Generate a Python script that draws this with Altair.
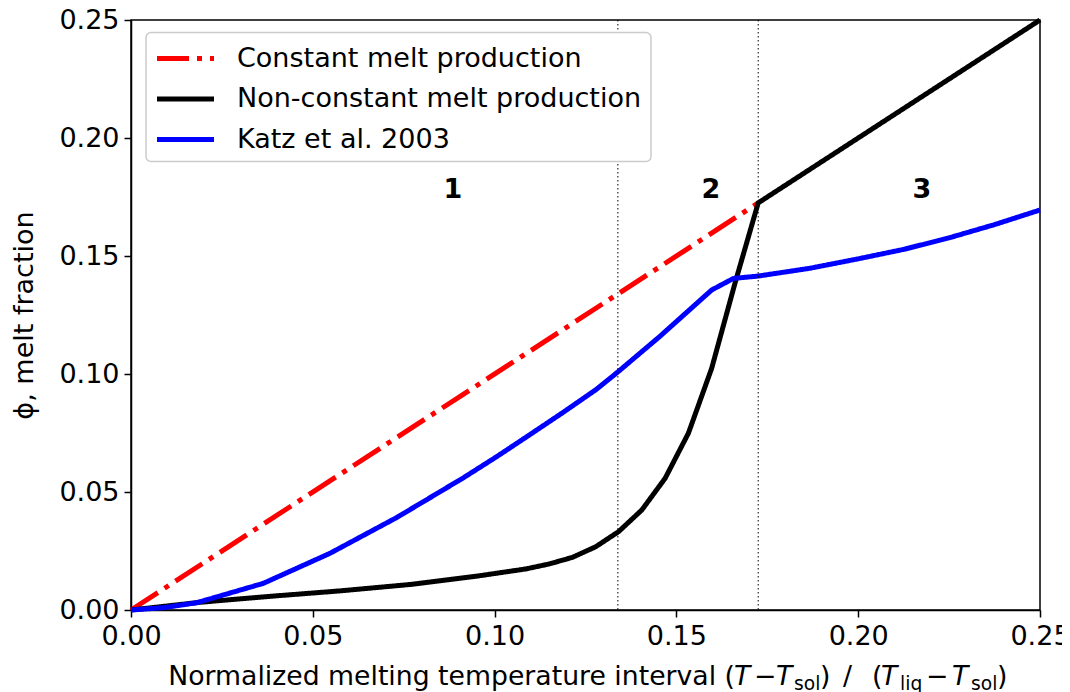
import altair as alt
import pandas as pd

# ---------------- data ----------------
series_names = ["Constant melt production", "Non-constant melt production", "Katz et al. 2003"]
series_colors = ["#ff0000", "#000000", "#0000ff"]

const_x = [0.0, 0.1725]
const_y = [0.0, 0.1725]

nonconst_x = [0.0, 0.0192, 0.0383, 0.0575, 0.0767, 0.0958, 0.1086, 0.1150, 0.1214,
              0.1278, 0.1341, 0.1405, 0.1469, 0.1533, 0.1597, 0.1661, 0.1725, 0.25]
nonconst_y = [0.0, 0.0033, 0.0058, 0.0081, 0.0108, 0.0145, 0.0174, 0.0195, 0.0223,
              0.0268, 0.0332, 0.0424, 0.0558, 0.0749, 0.1024, 0.1384, 0.1725, 0.25]

katz_x = [0.0, 0.0091, 0.0181, 0.0364, 0.0547, 0.0731, 0.0914, 0.1006, 0.1097, 0.1189,
          0.128, 0.134, 0.1455, 0.1597, 0.1657, 0.1725, 0.1867, 0.2, 0.2125, 0.225,
          0.2375, 0.25]
katz_y = [0.0, 0.0010, 0.0031, 0.0113, 0.0240, 0.0392, 0.0560, 0.0650, 0.0743, 0.0838,
          0.0935, 0.1010, 0.1160, 0.1356, 0.1405, 0.1415, 0.1448, 0.1488, 0.1528, 0.1577,
          0.1633, 0.1695]

boundary_x = [0.1339, 0.1725]

region_labels = ["1", "2", "3"]
region_x = [0.0885, 0.1595, 0.2175]
region_y = [0.1745, 0.1745, 0.1745]

x_ticks = [0.0, 0.05, 0.10, 0.15, 0.20, 0.25]
y_ticks = [0.0, 0.05, 0.10, 0.15, 0.20, 0.25]

# ---------------- tables ----------------
rows = []
for name, xs, ys in [(series_names[0], const_x, const_y),
                     (series_names[1], nonconst_x, nonconst_y),
                     (series_names[2], katz_x, katz_y)]:
    for i, (a, b) in enumerate(zip(xs, ys)):
        rows.append({"series": name, "x": a, "y": b, "idx": i})
lines_df = pd.DataFrame(rows)
vlines_df = pd.DataFrame({"x": boundary_x})
labels_df = pd.DataFrame({"x": region_x, "y": region_y, "t": region_labels})
one_df = pd.DataFrame({"k": [0]})

FONT = "DejaVu Sans"
FS = 27
TFS = 26.7
SUB = 18.7

xscale = alt.Scale(domain=[0, 0.25], nice=False, zero=False)
yscale = alt.Scale(domain=[0, 0.25], nice=False, zero=False)

xaxis = alt.Axis(values=x_ticks, format=".2f", title=None, labelFlush=False,
                 labelOverlap=False, grid=False, labelPadding=6)
yaxis = alt.Axis(values=y_ticks, format=".2f", title="ϕ, melt fraction", labelFlush=False,
                 labelOverlap=False, grid=False, titlePadding=20, labelPadding=5)

lines = alt.Chart(lines_df).mark_line(strokeWidth=5, strokeCap="butt", strokeJoin="round").encode(
    x=alt.X("x:Q", scale=xscale, axis=xaxis),
    y=alt.Y("y:Q", scale=yscale, axis=yaxis),
    color=alt.Color("series:N", scale=alt.Scale(domain=series_names, range=series_colors),
                    sort=series_names, title=None),
    strokeDash=alt.StrokeDash("series:N",
                              scale=alt.Scale(domain=series_names,
                                              range=[[32, 8, 5, 8], [1, 0], [1, 0]]),
                              sort=series_names, title=None),
    order=alt.Order("idx:Q"),
)

vlines = alt.Chart(vlines_df).mark_rule(color="black", strokeWidth=1, strokeDash=[1.5, 2.5]).encode(
    x=alt.X("x:Q", scale=xscale)
)

region_text = alt.Chart(labels_df).mark_text(
    font=FONT, fontSize=FS, fontWeight="bold", color="black", baseline="alphabetic", align="center"
).encode(x=alt.X("x:Q", scale=xscale), y=alt.Y("y:Q", scale=yscale), text="t:N")

# x-axis title assembled from pieces (mathtext style with italics and subscripts)
TBASE = 665
SBASE = 670
title_parts = [
    ("Normalized melting temperature interval (", 604, TBASE, TFS, "normal", "right"),
    ("T", 603, TBASE, TFS, "italic", "left"),
    ("\u2212", 623, TBASE, TFS, "normal", "left"),
    ("T", 645, TBASE, TFS, "italic", "left"),
    ("sol", 663, SBASE, SUB, "normal", "left"),
    (")", 689, TBASE, TFS, "normal", "left"),
    ("/", 712, TBASE, TFS, "normal", "left"),
    ("(", 741, TBASE, TFS, "normal", "left"),
    ("T", 750, TBASE, TFS, "italic", "left"),
    ("liq", 769, SBASE, SUB, "normal", "left"),
    ("\u2212", 795, TBASE, TFS, "normal", "left"),
    ("T", 821, TBASE, TFS, "italic", "left"),
    ("sol", 840, SBASE, SUB, "normal", "left"),
    (")", 866, TBASE, TFS, "normal", "left"),
]
title_layers = []
for txt, px, py, fs, style, al in title_parts:
    title_layers.append(
        alt.Chart(one_df).mark_text(font=FONT, fontSize=fs, fontStyle=style, color="black",
                                    align=al, baseline="alphabetic").encode(
            x=alt.value(px), y=alt.value(py), text=alt.value(txt)
        )
    )

chart = alt.layer(lines, vlines, region_text, *title_layers).properties(
    width=909, height=590,
    autosize=alt.AutoSizeParams(type="none"),
    padding={"left": 123, "top": 12, "right": 22, "bottom": 90},
).configure_view(
    stroke="black", strokeWidth=1.5
).configure_axis(
    domainColor="black", domainWidth=1.5, tickColor="black", tickWidth=1.5, tickSize=7,
    labelFont=FONT, labelFontSize=FS, labelColor="black",
    titleFont=FONT, titleFontSize=FS, titleColor="black", titleFontWeight="normal",
).configure_legend(
    orient="none", legendX=15, legendY=12.5, fillColor="white", strokeColor="#cccccc",
    strokeWidth=1.5, cornerRadius=5, padding=9, rowPadding=10.5,
    symbolType="M -2 0 L 2 0", symbolSize=812, symbolOffset=13.5,
    symbolStrokeWidth=5, labelFont=FONT, labelFontSize=FS, labelColor="black",
    labelOffset=34.5, labelLimit=700,
)

chart.save("out.html", embed_options={"renderer": "svg", "actions": False})
